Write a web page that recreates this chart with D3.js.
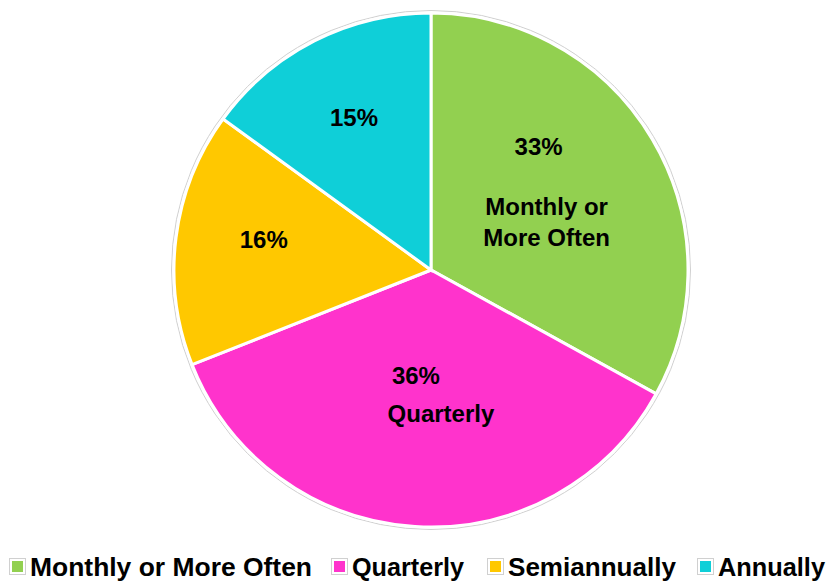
<!DOCTYPE html>
<html>
<head>
<meta charset="utf-8">
<script src="https://cdn.jsdelivr.net/npm/d3@7"></script>
<style>
  body { margin: 0; background: #fff; }
  text { font-family: "Liberation Sans", Arial, sans-serif; font-weight: bold; fill: #000; }
</style>
</head>
<body>
<div id="chart"></div>
<script>
var categories = ["Monthly or More Often", "Quarterly", "Semiannually", "Annually"];
var values = [33, 36, 16, 15];
var colors = ["#92d050", "#ff33cc", "#ffc800", "#0fcfd8"];
// slices that also show their category name inside
var nameLines = [["Monthly or", "More Often"], ["Quarterly"], [], []];

var width = 833, height = 585;
var cx = 431, cy = 270, radius = 257;

// label nudges relative to the arc centroid: [pct dx, pct dy, name dx, name dy]
var labelNudge = [[-3, -58, 5, 2], [-7, -23, 18, 15], [1, -9, 0, 0], [0, -1, 0, 0]];

var svg = d3.select("#chart")
    .append("svg")
    .attr("width", width)
    .attr("height", height);

var dataset = categories.map(function (c, i) {
    return { name: c, value: values[i], color: colors[i], lines: nameLines[i] };
});

var pie = d3.pie()
    .sort(null)
    .value(function (d) { return d.value; });

var arc = d3.arc().innerRadius(0).outerRadius(radius);

var g = svg.append("g")
    .attr("transform", "translate(" + cx + "," + cy + ")");

var arcs = pie(dataset);

// faint outline just outside the white border
g.append("circle")
    .attr("r", radius + 2.5)
    .attr("fill", "none")
    .attr("stroke", "#d0d0d0")
    .attr("stroke-width", 1);

g.selectAll("path")
    .data(arcs)
    .enter()
    .append("path")
    .attr("d", arc)
    .attr("fill", function (d) { return d.data.color; })
    .attr("stroke", "#fff")
    .attr("stroke-width", 3);

var outerLabel = d3.arc().innerRadius(radius * 0.66).outerRadius(radius * 0.66);
var innerLabel = d3.arc().innerRadius(radius * 0.5).outerRadius(radius * 0.5);

arcs.forEach(function (d, i) {
    var lines = d.data.lines;
    var n = labelNudge[i];
    var c = lines.length === 0 ? outerLabel.centroid(d) : innerLabel.centroid(d);
    g.append("text")
        .attr("x", c[0] + n[0]).attr("y", c[1] + n[1])
        .attr("text-anchor", "middle")
        .attr("dy", "0.35em")
        .style("font-size", "24px")
        .text(d.data.value + "%");
    lines.forEach(function (l, j) {
        g.append("text")
            .attr("x", c[0] + n[2]).attr("y", c[1] + n[3] + j * 31)
            .attr("text-anchor", "middle")
            .attr("dy", "0.35em")
            .style("font-size", "24px")
            .text(l);
    });
});

// legend
var legendX = [10, 332, 488, 698];
var legendW = [282, 112, 168, 107];
var legend = svg.append("g").attr("transform", "translate(0,567)");

dataset.forEach(function (d, i) {
    legend.append("rect")
        .attr("x", legendX[i] - 0.5).attr("y", -8.5)
        .attr("width", 16).attr("height", 16)
        .attr("fill", "#fff")
        .attr("stroke", "#d0d0d0")
        .attr("stroke-width", 1);
    legend.append("rect")
        .attr("x", legendX[i] + 2).attr("y", -6)
        .attr("width", 11).attr("height", 11)
        .attr("fill", d.color);
    legend.append("text")
        .attr("x", legendX[i] + 20)
        .attr("y", 0)
        .attr("dy", "0.36em")
        .attr("textLength", legendW[i])
        .attr("lengthAdjust", "spacingAndGlyphs")
        .style("font-size", "26px")
        .text(d.name);
});
</script>
</body>
</html>
